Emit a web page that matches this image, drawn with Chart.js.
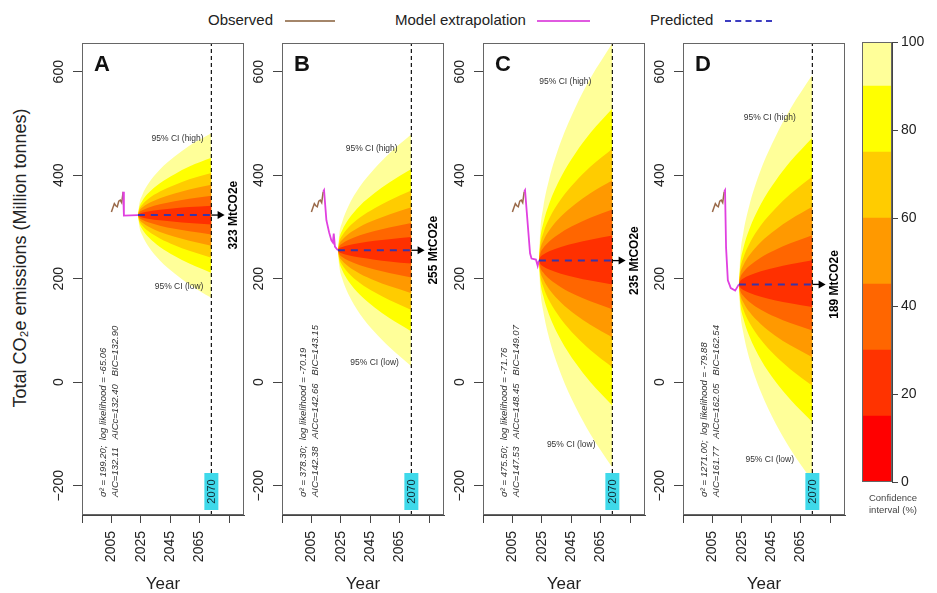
<!DOCTYPE html>
<html>
<head>
<meta charset="utf-8">
<script src="https://cdn.jsdelivr.net/npm/chart.js@4.4.1/dist/chart.umd.min.js"></script>
<style>
  body { margin: 0; background: #fff; width: 937px; height: 593px; position: relative; overflow: hidden;
         font-family: "Liberation Sans", Arial, sans-serif; color: #222; }
  canvas { position: absolute; top: 0; }
  .leg { position: absolute; top: 11px; font-size: 15px; white-space: nowrap; }
  .sw { position: absolute; top: 20px; height: 0; }
  #ytitle { position: absolute; left: 20px; top: 258px; transform: translate(-50%, -50%) rotate(-90deg);
            white-space: nowrap; font-size: 18px; }
</style>
</head>
<body>
<div class="leg" style="left:208px">Observed</div>
<div class="sw" style="left:285px;width:50px;border-top:2px solid #a4866a"></div>
<div class="leg" style="left:395px">Model extrapolation</div>
<div class="sw" style="left:537px;width:53px;border-top:2px solid #e05ae0"></div>
<div class="leg" style="left:650px">Predicted</div>
<div class="sw" style="left:725px;width:47px;border-top:2px dashed #3c3cc0"></div>
<div id="ytitle">Total CO₂e emissions (Million tonnes)</div>

<canvas id="pA" width="232" height="593"></canvas>
<canvas id="pB" width="232" height="593"></canvas>
<canvas id="pC" width="232" height="593"></canvas>
<canvas id="pD" width="232" height="593"></canvas>
<canvas id="cbar" width="87" height="593"></canvas>

<script>
// ---- data ----
const xTickYears = [1985, 2005, 2025, 2045, 2065, 2085];
const xLabelYears = [2005, 2025, 2045, 2065];
const yTickValues = [-200, 0, 200, 400, 600];

const obsYears  = [2005, 2006, 2007, 2008, 2009, 2010, 2011, 2012, 2013];
const obsValues = [329, 337, 345, 341, 339, 350, 352, 347, 368];

const modelYearsA  = [2013, 2013.5, 2023];
const modelValuesA = [368, 322, 323];
const modelYearsB  = [2013, 2013.6, 2015.2, 2017, 2018.6, 2019.6, 2020.2, 2021, 2023];
const modelValuesB = [368, 371, 313, 290, 274, 270, 287, 262, 255];
const modelYearsC  = [2013, 2013.6, 2017, 2018, 2021, 2022.2, 2023];
const modelValuesC = [368, 371, 249, 239, 237, 225, 235];
const modelYearsD  = [2013, 2013.6, 2014.3, 2015.5, 2017.5, 2020.5, 2023];
const modelValuesD = [368, 371, 260, 197, 182, 177, 189];

// outer edge of the fan
const fanYears  = [2023, 2024, 2026, 2030, 2038, 2048, 2058, 2073];
const fanUpperA = [323, 345, 362, 383, 411, 436, 457, 481];
const fanLowerA = [323, 301, 284, 263, 235, 210, 189, 163];
const fanUpperB = [255, 287, 310, 339, 378, 413, 442, 479];
const fanLowerB = [255, 223, 200, 171, 132, 97, 68, 31];
const fanUpperC = [235, 294, 338, 392, 465, 532, 587, 655];
const fanLowerC = [235, 179, 137, 85, 16, -48, -100, -165];
const fanUpperD = [189, 246, 288, 340, 411, 475, 528, 594];
const fanLowerD = [189, 135, 96, 47, -19, -80, -129, -191];

const predictedValues = [323, 255, 235, 189];
const horizonYear = 2073;     // position of the dashed line
const horizonLabel = '2070';
const arrowEndYear = 2082;

// confidence bands (inner -> outer), boundary as share of the outer edge
const bandLevels    = [15, 30, 45, 60, 75, 90];
const bandFractions = [0.115, 0.235, 0.37, 0.515, 0.70, 1.0];
const bandColors    = ['#ff3000', '#ff6600', '#ff9900', '#ffcc00', '#ffff00', '#ffff99'];

const colorbarBreaks = [0, 15, 30, 45, 60, 75, 90, 100];
const colorbarColors = ['#ff0000', '#ff3300', '#ff6600', '#ff9900', '#ffcc00', '#ffff00', '#ffff99'];

const panelLetters = ['A', 'B', 'C', 'D'];
const statsLine1 = ['\u03c3\u00b2 = 199.20;  log likelihood = -65.06', '\u03c3\u00b2 = 378.30;  log likelihood = -70.19',
                    '\u03c3\u00b2 = 475.50;  log likelihood = -71.76', '\u03c3\u00b2 = 1271.00;  log likelihood = -79.88'];
const statsLine2 = ['AIC=132.11   AICc=132.40   BIC=132.90', 'AIC=142.38   AICc=142.66   BIC=143.15',
                    'AIC=147.53   AICc=148.45   BIC=149.07', 'AIC=161.77   AICc=162.05   BIC=162.54'];
const ciHighYears  = [2050, 2046, 2041, 2044];
const ciHighValues = [471, 452, 580, 512];
const ciLowYears   = [2051, 2048, 2045, 2044];
const ciLowValues  = [184, 37, -120, -149];

// ---- layout ----
const PANEL_LEFT = [82, 282, 483, 683];
const Y_AXIS_W = 45, RIGHT_PAD = 25, BOX_TOP = 43, X_AXIS_H = 78;
const X_MIN = 1985, X_MAX = 2095.2, Y_MIN = -256.6, Y_MAX = 655.5;
const FONT = '"Liberation Sans", Arial, sans-serif';

const panels = [
  { modelYears: modelYearsA, modelValues: modelValuesA, up: fanUpperA, lo: fanLowerA },
  { modelYears: modelYearsB, modelValues: modelValuesB, up: fanUpperB, lo: fanLowerB },
  { modelYears: modelYearsC, modelValues: modelValuesC, up: fanUpperC, lo: fanLowerC },
  { modelYears: modelYearsD, modelValues: modelValuesD, up: fanUpperD, lo: fanLowerD },
];
panels.forEach((p, i) => { p.predicted = predictedValues[i]; });

function pts(xs, ys) { return xs.map((v, i) => ({ x: v, y: ys[i] })); }

function rotText(ctx, text, x, y) {
  ctx.save();
  ctx.translate(x, y);
  ctx.rotate(-Math.PI / 2);
  ctx.fillText(text, 0, 0);
  ctx.restore();
}
function fmtY(v) { return v < 0 ? '\u2212' + Math.abs(v) : String(v); }

const panelDecor = {
  id: 'panelDecor',
  afterDatasetsDraw(chart, args, opts) {
    const i = opts.idx, p = panels[i];
    const { ctx, chartArea: a } = chart;
    const xs = chart.scales.x, ys = chart.scales.y;
    const hx = xs.getPixelForValue(horizonYear);
    const py = ys.getPixelForValue(p.predicted);
    const ex = xs.getPixelForValue(arrowEndYear);
    ctx.save();
    // arrow
    ctx.strokeStyle = '#000';
    ctx.lineWidth = 1.3;
    ctx.beginPath(); ctx.moveTo(hx, py); ctx.lineTo(ex - 5, py); ctx.stroke();
    ctx.fillStyle = '#000';
    ctx.beginPath(); ctx.moveTo(ex, py); ctx.lineTo(ex - 7, py - 4); ctx.lineTo(ex - 7, py + 4); ctx.closePath(); ctx.fill();
    // value label
    ctx.font = 'bold 12px ' + FONT;
    ctx.textAlign = 'center';
    ctx.textBaseline = 'middle';
    rotText(ctx, predictedValues[i] + ' MtCO2e', a.right - 10, py);
    // horizon box
    ctx.fillStyle = '#3fd9ea';
    ctx.fillRect(hx - 7, a.bottom - 42, 14, 37);
    ctx.fillStyle = '#12303a';
    ctx.font = '11px ' + FONT;
    rotText(ctx, horizonLabel, hx + 0.5, a.bottom - 23.5);
    // CI labels
    ctx.fillStyle = '#333';
    ctx.font = '8.5px ' + FONT;
    ctx.fillText('95% CI (high)', xs.getPixelForValue(ciHighYears[i]), ys.getPixelForValue(ciHighValues[i]));
    ctx.fillText('95% CI (low)', xs.getPixelForValue(ciLowYears[i]), ys.getPixelForValue(ciLowValues[i]));
    // fit statistics
    ctx.font = 'italic 9.5px ' + FONT;
    ctx.textAlign = 'left';
    rotText(ctx, statsLine1[i], a.left + 21, a.bottom - 18);
    rotText(ctx, statsLine2[i], a.left + 33, a.bottom - 18);
    // panel letter
    ctx.fillStyle = '#111';
    ctx.font = 'bold 22px ' + FONT;
    ctx.textBaseline = 'alphabetic';
    ctx.fillText(panelLetters[i], a.left + 12, a.top + 28);
    ctx.restore();
  },
  afterDraw(chart) {
    const { ctx, chartArea: a } = chart;
    const ys = chart.scales.y;
    ctx.save();
    ctx.strokeStyle = '#666';
    ctx.lineWidth = 1;
    ctx.strokeRect(a.left + 0.5, a.top + 0.5, a.right - a.left - 1, a.bottom - a.top - 1);
    ctx.fillStyle = '#222';
    ctx.font = '14px ' + FONT;
    ctx.textAlign = 'center';
    ctx.textBaseline = 'middle';
    yTickValues.forEach(v => rotText(ctx, fmtY(v), a.left - 23, ys.getPixelForValue(v)));
    ctx.restore();
  }
};

function panelDatasets(p) {
  const ds = [
    { data: [{ x: horizonYear, y: Y_MIN }, { x: horizonYear, y: Y_MAX }],
      borderColor: '#111', borderWidth: 1.2, borderDash: [4, 3], pointRadius: 0 },
    { data: [{ x: fanYears[0], y: p.predicted }, { x: horizonYear, y: p.predicted }],
      borderColor: '#3b35a8', borderWidth: 2, borderDash: [7, 6], pointRadius: 0 },
    { data: pts(p.modelYears, p.modelValues), borderColor: '#e040e0', borderWidth: 1.8, pointRadius: 0 },
    { data: pts(obsYears, obsValues), borderColor: '#9a6a4a', borderWidth: 1.5, pointRadius: 0 },
  ];
  bandFractions.forEach((f, k) => {
    const up = fanYears.map((yr, j) => ({ x: yr, y: p.predicted + f * (p.up[j] - p.predicted) }));
    const lo = fanYears.map((yr, j) => ({ x: yr, y: p.predicted - f * (p.predicted - p.lo[j]) }));
    ds.push({ label: bandLevels[k] + '%', data: up, fill: '+1', backgroundColor: bandColors[k],
              borderColor: 'transparent', borderWidth: 0, pointRadius: 0, cubicInterpolationMode: 'monotone' });
    ds.push({ data: lo, fill: false, borderColor: 'transparent', borderWidth: 0, pointRadius: 0,
              cubicInterpolationMode: 'monotone' });
  });
  return ds;
}

['pA', 'pB', 'pC', 'pD'].forEach((id, i) => {
  const cv = document.getElementById(id);
  cv.style.left = (PANEL_LEFT[i] - Y_AXIS_W) + 'px';
  new Chart(cv, {
    type: 'line',
    data: { datasets: panelDatasets(panels[i]) },
    options: {
      responsive: false, animation: false, events: [],
      layout: { padding: { top: BOX_TOP, right: RIGHT_PAD, bottom: 0, left: 0 } },
      plugins: { legend: { display: false }, tooltip: { enabled: false }, panelDecor: { idx: i } },
      scales: {
        x: {
          type: 'linear', min: X_MIN, max: X_MAX,
          afterBuildTicks: s => { s.ticks = xTickYears.map(v => ({ value: v })); },
          afterFit: s => { s.height = X_AXIS_H; },
          ticks: { minRotation: 90, maxRotation: 90, autoSkip: false, padding: 8, color: '#222',
                   font: { size: 14, family: FONT },
                   callback: v => xLabelYears.includes(v) ? String(v) : '' },
          grid: { drawOnChartArea: false, drawTicks: true, tickLength: 8, color: '#444' },
          border: { display: true, color: '#444' },
          title: { display: true, text: 'Year', color: '#222', font: { size: 17, family: FONT, lineHeight: 1 },
                   padding: { top: 0, bottom: 0 } }
        },
        y: {
          type: 'linear', min: Y_MIN, max: Y_MAX,
          afterBuildTicks: s => { s.ticks = yTickValues.map(v => ({ value: v })); },
          afterFit: s => { s.width = Y_AXIS_W; },
          ticks: { display: false },
          grid: { drawOnChartArea: false, drawTicks: true, tickLength: 9, color: '#444' },
          border: { display: true, color: '#444' }
        }
      }
    },
    plugins: [panelDecor]
  });
});

// ---- colour bar ----
const cbarDecor = {
  id: 'cbarDecor',
  afterDraw(chart) {
    const { ctx, chartArea: a } = chart;
    ctx.save();
    ctx.strokeStyle = '#666';
    ctx.lineWidth = 1;
    ctx.strokeRect(a.left + 0.5, a.top + 0.5, a.right - a.left - 1, a.bottom - a.top - 1);
    ctx.fillStyle = '#444';
    ctx.font = '9.5px ' + FONT;
    ctx.textAlign = 'center';
    ctx.textBaseline = 'middle';
    ctx.fillText('Confidence', 43, 498);
    ctx.fillText('interval (%)', 43, 510);
    ctx.restore();
  }
};
const cb = document.getElementById('cbar');
cb.style.left = '850px';
new Chart(cb, {
  type: 'bar',
  data: {
    labels: [''],
    datasets: colorbarColors.map((c, k) => ({
      data: [colorbarBreaks[k + 1] - colorbarBreaks[k]], backgroundColor: c, borderWidth: 0,
      barPercentage: 1, categoryPercentage: 1
    }))
  },
  options: {
    responsive: false, animation: false, events: [],
    layout: { padding: { left: 12, top: 42, right: 0, bottom: 111 } },
    plugins: { legend: { display: false }, tooltip: { enabled: false } },
    scales: {
      x: { display: false, stacked: true },
      y: {
        stacked: true, position: 'right', min: 0, max: 100,
        afterFit: s => { s.width = 45; },
        ticks: { stepSize: 20, padding: 3, color: '#222', font: { size: 14, family: FONT } },
        grid: { drawOnChartArea: false, tickLength: 6, color: '#444' },
        border: { display: true, color: '#444' }
      }
    }
  },
  plugins: [cbarDecor]
});
</script>
</body>
</html>
